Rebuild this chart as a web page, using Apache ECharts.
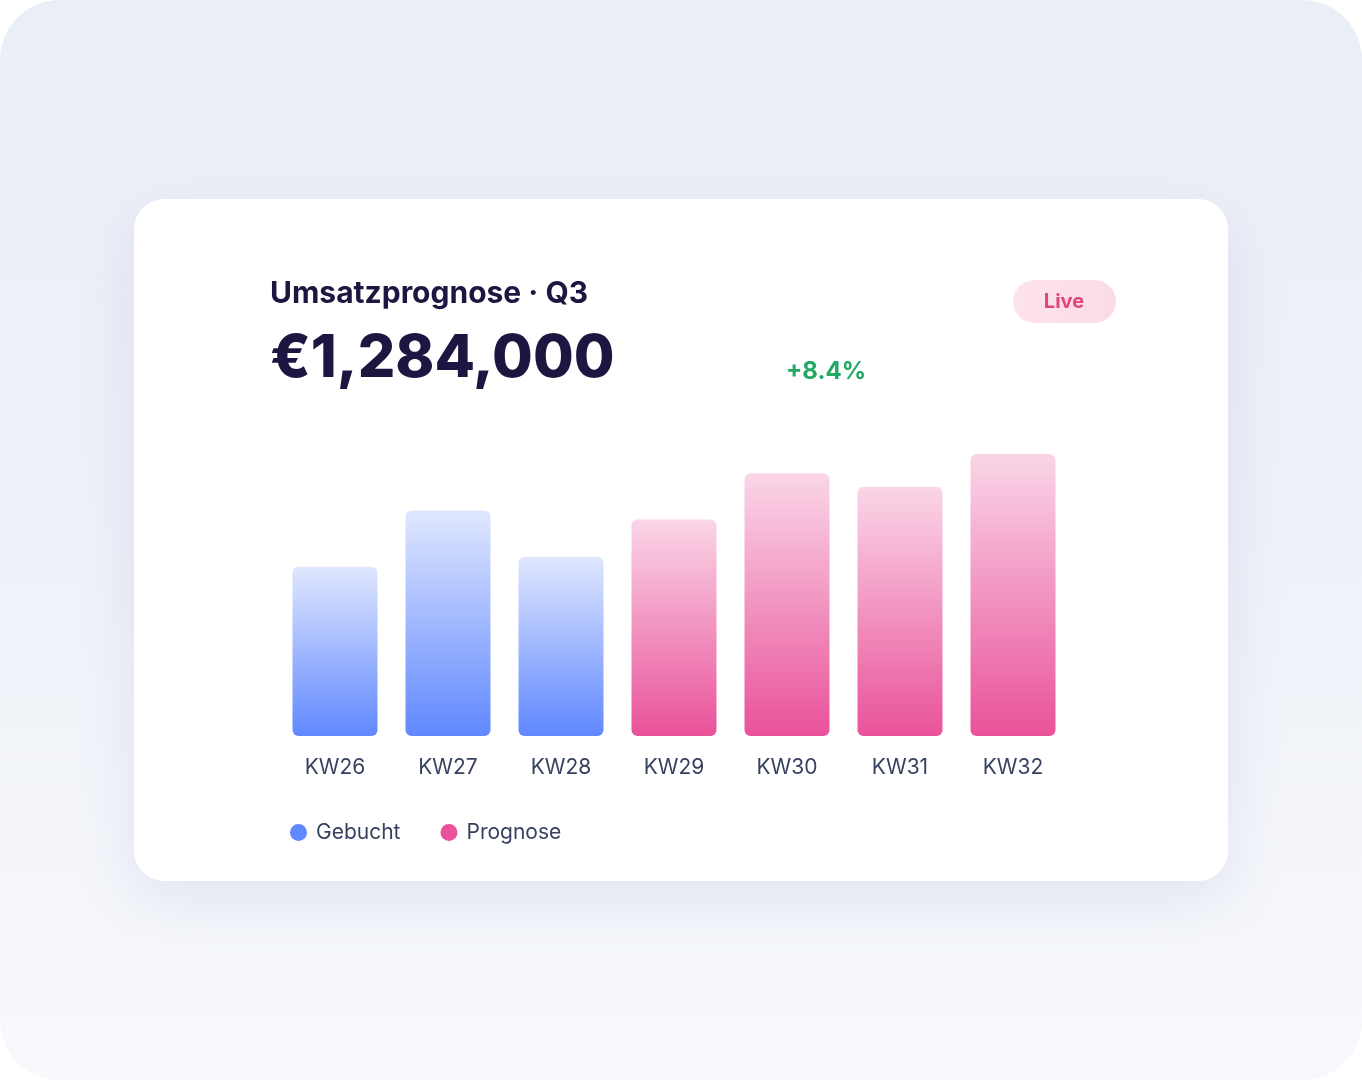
<!DOCTYPE html>
<html>
<head>
<meta charset="utf-8">
<script src="https://cdn.jsdelivr.net/npm/echarts@6/dist/echarts.min.js"></script>
<style>
  html, body { margin:0; padding:0; width:1362px; height:1080px; background:#ffffff; overflow:hidden; font-family: Inter, "Noto Sans", sans-serif; }
  #frame { position:absolute; left:0; top:0; width:1362px; height:1080px; border-radius:60px;
    background: linear-gradient(180deg, #eaeef7 0%, #eef1f8 50%, #f8f9fc 100%); }
  #card { position:absolute; left:134px; top:199px; width:1094px; height:682px; border-radius:30px; background:#ffffff;
    box-shadow: 0 20px 60px rgba(110,130,190,0.14); }
  #chart { position:absolute; left:0; top:0; width:1362px; height:1080px; }
</style>
</head>
<body>
<div id="frame"></div>
<div id="card"></div>
<div id="chart"></div>
<script>
const categories = ['KW26','KW27','KW28','KW29','KW30','KW31','KW32'];
const booked =   [150, 200, 159, null, null, null, null];
const forecast = [null, null, null, 192, 233, 221, 250];
const titleText = 'Umsatzprognose · Q3';
const totalText = '€1,284,000';
const changeText = '+8.4%';
const badgeText = 'Live';

const chart = echarts.init(document.getElementById('chart'), null, {renderer:'canvas'});
const font = 'Inter, "Noto Sans", sans-serif';
const blueGrad = new echarts.graphic.LinearGradient(0,0,0,1,[{offset:0,color:'#e0e7fe'},{offset:1,color:'#6088ff'}]);
const pinkGrad = new echarts.graphic.LinearGradient(0,0,0,1,[{offset:0,color:'#fad6e7'},{offset:1,color:'#e9529a'}]);

chart.setOption({
  backgroundColor:'transparent',
  animation:false,
  grid:{ left:278.5, right:292.5, top:454, bottom:344, containLabel:false },
  xAxis:{ type:'category', data:categories,
    axisLine:{show:false}, axisTick:{show:false},
    axisLabel:{ color:'#37425f', fontSize:21, fontFamily:font, margin:21 } },
  yAxis:{ type:'value', min:0, max:250, show:false, splitLine:{show:false} },
  legend:{ left:285, top:817, icon:'circle', itemWidth:17, itemHeight:17, itemGap:40,
    textStyle:{ color:'#37425f', fontSize:21, fontFamily:font, padding:[0,0,0,4] },
    data:[{name:'Gebucht', itemStyle:{color:'#6088ff'}},{name:'Prognose', itemStyle:{color:'#e9529a'}}] },
  series:[
    { name:'Gebucht', type:'bar', data:booked, barWidth:85, barGap:'-100%',
      itemStyle:{ color:blueGrad, borderRadius:6 } },
    { name:'Prognose', type:'bar', data:forecast, barWidth:85, barGap:'-100%',
      itemStyle:{ color:pinkGrad, borderRadius:6 } }
  ],
  graphic:[
    { type:'text', left:270, top:279, style:{ text:titleText, fill:'#1c1640', font:'700 30px '+font } },
    { type:'text', left:270, top:330, style:{ text:totalText, fill:'#1c1640', font:'800 59px '+font } },
    { type:'text', left:786, top:360, style:{ text:changeText, fill:'#22a862', font:'700 24px '+font } },
    { type:'rect', shape:{ x:1013, y:280, width:103, height:43, r:21.5 },
      style:{ fill:new echarts.graphic.LinearGradient(0,0,1,0,[{offset:0,color:'#fde3ee'},{offset:1,color:'#fbdbe8'}]) } },
    { type:'text', x:1064, y:302, style:{ text:badgeText, fill:'#e0457b', font:'700 20px '+font, align:'center', verticalAlign:'middle' } }
  ]
});
</script>
</body>
</html>
